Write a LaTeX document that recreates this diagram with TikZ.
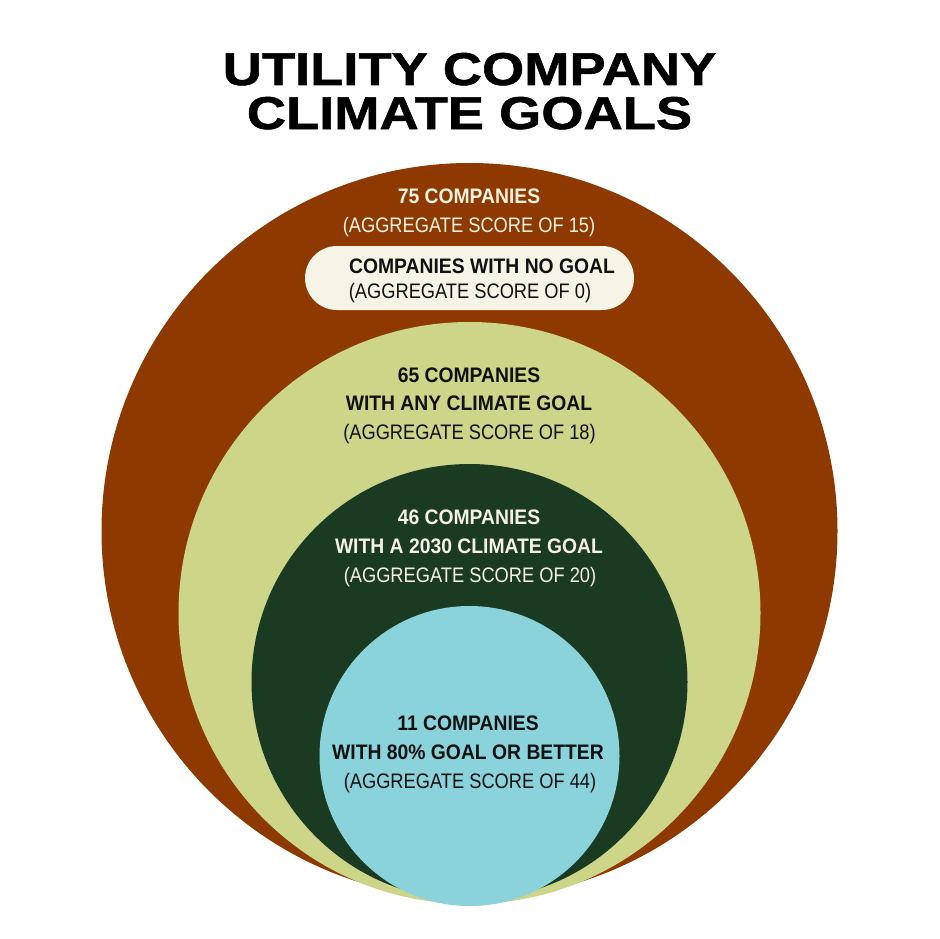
\documentclass[tikz,border=0pt]{standalone}
\usepackage{fontspec}
\newfontfamily\titlefont[FakeStretch=1.18,FakeBold=1.2]{Liberation Sans}
\newfontfamily\bodyreg[FakeStretch=0.87]{Liberation Sans}
\newfontfamily\bodybold[FakeStretch=0.92]{Liberation Sans}
\definecolor{brownc}{HTML}{8E3900}
\definecolor{lgreen}{HTML}{CCD588}
\definecolor{dgreen}{HTML}{1B3A22}
\definecolor{lblue}{HTML}{8AD3DB}
\definecolor{cream}{HTML}{F5F2E2}
\definecolor{pillc}{HTML}{F6F4E6}
\definecolor{ink}{HTML}{111111}
\tikzset{
  ring/.style={draw=none},
  ttl/.style={anchor=base,inner sep=0pt,font=\titlefont\bfseries\fontsize{46}{46}\selectfont,text=black},
  boldline/.style={anchor=base,inner sep=0pt,font=\bodybold\bfseries\fontsize{21}{21}\selectfont},
  regline/.style={anchor=base,inner sep=0pt,font=\bodyreg\fontsize{21}{21}\selectfont},
  pill/.style={draw=none,fill=pillc,rounded corners=32pt,minimum width=329pt,minimum height=64pt,inner sep=0pt}
}
\begin{document}
\begin{tikzpicture}[x=1pt,y=-1pt]
\useasboundingbox[fill=white] (0,0) rectangle (939,939);
% circles
\fill[brownc] (469.5,531) circle[radius=368];
\fill[lgreen] (469.5,613) circle[radius=291];
\fill[dgreen] (469.5,682) circle[radius=218];
\fill[lblue]  (469.5,756) circle[radius=150];
% title
\node[ttl] (t1) at (469.5,85) {UTILITY COMPANY};
\node[ttl] (t2) at (469.5,129) {CLIMATE GOALS};
% outer ring labels
\node[boldline,text=cream] (a1) at (469,203) {75 COMPANIES};
\node[regline,text=cream] (a2) at (469,232) {(AGGREGATE SCORE OF 15)};
% pill
\node[pill] (p) at (469.5,278) {};
\node[boldline,text=ink] (p1) at (482,273) {COMPANIES WITH NO GOAL};
\node[regline,text=ink] (p2) at (470,298) {(AGGREGATE SCORE OF 0)};
% light green
\node[boldline,text=ink] (b1) at (469,382) {65 COMPANIES};
\node[boldline,text=ink] (b2) at (469,410.5) {WITH ANY CLIMATE GOAL};
\node[regline,text=ink] (b3) at (469.5,439) {(AGGREGATE SCORE OF 18)};
% dark green
\node[boldline,text=cream] (c1) at (469,524) {46 COMPANIES};
\node[boldline,text=cream] (c2) at (469,553.5) {WITH A 2030 CLIMATE GOAL};
\node[regline,text=cream] (c3) at (470,582) {(AGGREGATE SCORE OF 20)};
% light blue
\node[boldline,text=ink] (d1) at (468,730) {11 COMPANIES};
\node[boldline,text=ink] (d2) at (468,759) {WITH 80\% GOAL OR BETTER};
\node[regline,text=ink] (d3) at (470,788) {(AGGREGATE SCORE OF 44)};
\end{tikzpicture}
\end{document}
